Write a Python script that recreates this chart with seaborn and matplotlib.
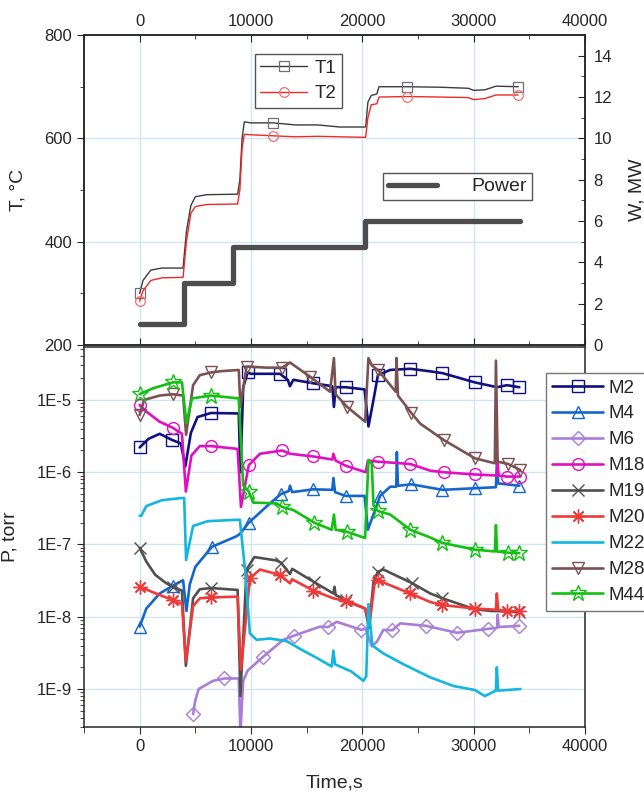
import numpy as np
import pandas as pd
import seaborn as sns
import matplotlib
matplotlib.use("Agg")
from matplotlib import pyplot as plt
from matplotlib.ticker import MultipleLocator, LogLocator, FuncFormatter, NullFormatter

# ---- top panel: temperatures (left axis) and power (right axis)
t_T = [0, 300, 1000, 2000, 3900, 4200, 4600, 5000, 6000, 8800, 9000, 9200, 9400, 10000, 12000,
       14000, 16000, 18000, 20300, 20500, 20800, 21300, 21500, 24000, 27000, 29500, 30000, 31000,
       32000, 34000]
T1 = [300, 325, 345, 349, 349, 420, 470, 487, 491, 492, 520, 600, 632, 630, 630,
      626, 626, 622, 622, 670, 683, 686, 700, 700, 699, 697, 693, 694, 701, 700]
T2 = [285, 305, 325, 330, 331, 400, 455, 468, 472, 473, 500, 580, 608, 607, 605,
      603, 604, 603, 602, 640, 665, 667, 680, 681, 680, 679, 675, 677, 684, 684]
marks_T = [0, 12000, 24000, 34000]

t_P = [0, 4000, 8400, 20200, 34200]
power = [1, 3, 4.75, 6, 6]

# ---- bottom panel: partial pressures, torr
t_M2 = [0, 800, 1800, 2900, 3700, 4100, 4600, 5200, 6400, 8900, 9050, 9300, 9700, 10000, 12600,
        13300, 13500, 13800, 15600, 17300, 17450, 17600, 18500, 20200, 20550, 21000, 21400, 22500,
        24300, 26000, 27200, 30100, 32100, 33000, 34100]
M2 = [2.2e-6, 2.9e-6, 3.4e-6, 2.8e-6, 2.5e-6, 1.2e-6, 3.5e-6, 5.8e-6, 6.6e-6, 6.5e-6, 1.0e-6, 1.5e-5,
      2.4e-5, 2.3e-5, 2.3e-5, 1.9e-5, 1.55e-5, 1.9e-5, 1.7e-5, 1.55e-5, 8e-6, 1.5e-5, 1.5e-5, 1.4e-5,
      4.3e-6, 1.0e-5, 2.2e-5, 2.6e-5, 2.7e-5, 2.5e-5, 2.35e-5, 1.75e-5, 1.5e-5, 1.6e-5, 1.5e-5]

t_M4 = [0, 600, 1800, 3000, 3900, 4200, 4500, 5000, 6500, 8700, 9000, 9800, 11700, 12700, 13400,
        13500, 13700, 15600, 17300, 17400, 17550, 18500, 20200, 20500, 21600, 22500, 23050, 23100,
        23200, 24400, 27200, 30100, 32000, 32100, 32200, 34100]
M4 = [7.3e-9, 1.3e-8, 2.1e-8, 2.7e-8, 3.2e-8, 1.2e-8, 2.8e-8, 4.9e-8, 9.3e-8, 1.3e-7, 1.4e-7, 2.0e-7,
      3.7e-7, 5.0e-7, 5.5e-7, 6.5e-7, 5.3e-7, 5.8e-7, 5.7e-7, 8.3e-7, 5.3e-7, 4.7e-7, 4.7e-7, 1.6e-7,
      4.7e-7, 6.3e-7, 6.3e-7, 1.9e-6, 6.5e-7, 6.8e-7, 5.7e-7, 6.0e-7, 6.2e-7, 1.6e-6, 7.0e-7, 6.5e-7]

t_M6 = [4800, 5000, 5300, 6600, 7600, 8900, 9050, 9300, 9700, 11100, 12900, 13900, 16200, 16900,
        17700, 19900, 20300, 20850, 21300, 21900, 22700, 23400, 25700, 28500, 31300, 32100, 32150,
        32250, 34100]
M6 = [4.5e-10, 7e-10, 1.0e-9, 1.3e-9, 1.4e-9, 1.4e-9, 2.5e-10, 1.3e-9, 1.8e-9, 2.8e-9, 4.8e-9, 5.5e-9,
      7.3e-9, 7.2e-9, 8.5e-9, 6.6e-9, 6.8e-9, 3.9e-9, 4.5e-9, 6.6e-9, 6.5e-9, 8.1e-9, 7.5e-9, 6.0e-9,
      6.8e-9, 7e-9, 1.07e-8, 7.2e-9, 7.5e-9]

t_M18 = [0, 600, 1800, 3000, 3800, 4150, 4650, 5400, 6400, 8800, 9100, 9800, 10800, 12800, 13500,
         15600, 17300, 17400, 17600, 18500, 20300, 20500, 21400, 24300, 26100, 27300, 30100, 32100,
         32150, 32250, 33000, 34200]
M18 = [8.5e-6, 6.9e-6, 5.0e-6, 4.1e-6, 3.4e-6, 5.4e-7, 1.7e-6, 2.3e-6, 2.3e-6, 2.1e-6, 3.3e-7, 1.25e-6,
       1.8e-6, 2.0e-6, 1.8e-6, 1.65e-6, 1.5e-6, 1.8e-6, 1.45e-6, 1.23e-6, 1.0e-6, 1.45e-6, 1.4e-6,
       1.3e-6, 1.05e-6, 1.0e-6, 9.3e-7, 9e-7, 1.35e-6, 9e-7, 8.7e-7, 8.7e-7]

t_M19 = [0, 600, 1400, 2400, 3000, 3800, 4150, 4800, 5400, 6400, 8800, 9050, 9600, 10300, 12300,
         12700, 13500, 13700, 15700, 17400, 17500, 17600, 18500, 20250, 20600, 21000, 21400, 21900,
         24500, 26100, 27200, 30100, 31600, 32100, 34100]
M19 = [9e-8, 5.8e-8, 3.8e-8, 2.9e-8, 2.6e-8, 2.3e-8, 2.1e-9, 1.8e-8, 2.4e-8, 2.5e-8, 2.35e-8, 8e-10,
       4.5e-8, 6.7e-8, 6.0e-8, 5.6e-8, 3.9e-8, 4.6e-8, 3.0e-8, 2.1e-8, 2.6e-8, 2.0e-8, 1.7e-8, 1.3e-8,
       7e-9, 3e-8, 4.2e-8, 4.5e-8, 2.9e-8, 2.1e-8, 1.8e-8, 1.27e-8, 1.2e-8, 1.2e-8, 1.15e-8]

t_M20 = [0, 1800, 3000, 3800, 4150, 4800, 5400, 6400, 8800, 9100, 9900, 10800, 12600, 13500, 13700,
         15600, 17400, 18500, 20250, 20650, 21100, 21400, 24300, 26100, 27200, 30100, 32000, 32080,
         32200, 33000, 34100]
M20 = [2.6e-8, 2.0e-8, 1.7e-8, 1.5e-8, 2.4e-9, 1.4e-8, 1.8e-8, 1.85e-8, 1.9e-8, 1.85e-9, 3.4e-8,
       4.5e-8, 3.8e-8, 2.9e-8, 3.3e-8, 2.3e-8, 1.8e-8, 1.65e-8, 1.3e-8, 8e-9, 2.9e-8, 3.2e-8, 2.1e-8,
       1.6e-8, 1.45e-8, 1.3e-8, 1.25e-8, 2.1e-8, 1.25e-8, 1.2e-8, 1.2e-8]

t_M22 = [0, 150, 600, 2000, 3800, 4000, 4170, 4800, 6100, 8800, 9000, 9500, 9900, 10500, 11700,
         13200, 14400, 15900, 17250, 17400, 17550, 19000, 20100, 20350, 20550, 20900, 21900, 23700,
         26100, 28200, 30100, 31000, 32000, 32080, 32200, 34200]
M22 = [2.5e-7, 2.5e-7, 3.4e-7, 4.1e-7, 4.4e-7, 4.4e-7, 6.1e-8, 1.8e-7, 2.1e-7, 2.2e-7, 2.2e-7, 4e-8,
       5.9e-9, 4.8e-9, 5.0e-9, 4.6e-9, 3.6e-9, 2.7e-9, 2.05e-9, 3.4e-9, 2.2e-9, 1.75e-9, 1.3e-9,
       1.5e-9, 1.5e-8, 4e-9, 3.1e-9, 2.2e-9, 1.45e-9, 1.1e-9, 9.7e-10, 8e-10, 9.5e-10, 2e-9, 9.5e-10,
       1.0e-9]

t_M28 = [0, 400, 1800, 3000, 3900, 4170, 4800, 5400, 6400, 7300, 8900, 9050, 9600, 11400, 12800,
         13500, 15300, 17100, 17450, 17600, 18600, 20250, 20550, 20850, 21400, 23000, 23070, 23200,
         24400, 25200, 27300, 30100, 31900, 32000, 32150, 33100, 34200]
M28 = [6.2e-6, 1.0e-5, 1.15e-5, 1.2e-5, 1.15e-5, 3.3e-6, 1.6e-5, 2.2e-5, 2.4e-5, 2.5e-5, 2.6e-5, 8e-6,
       2.9e-5, 2.8e-5, 2.8e-5, 3.3e-5, 2.1e-5, 1.3e-5, 3.8e-5, 1.2e-5, 8.1e-6, 5.0e-6, 3.8e-5, 3.0e-5,
       2.6e-5, 1.3e-5, 3.8e-5, 1.15e-5, 6.6e-6, 4.7e-6, 2.8e-6, 1.56e-6, 1.33e-6, 3.5e-5, 1.4e-6,
       1.3e-6, 1.07e-6]

t_M44 = [0, 1200, 3000, 3800, 4200, 4700, 6400, 8900, 9300, 9800, 10200, 12300, 12800, 13800, 15700,
         17250, 17450, 17600, 18600, 20250, 20550, 20850, 21000, 21400, 22500, 24300, 26100, 27200,
         30100, 31900, 32000, 32100, 33100, 34100]
M44 = [1.2e-5, 1.45e-5, 1.75e-5, 1.75e-5, 4.8e-6, 1.05e-5, 1.15e-5, 1.05e-5, 6.6e-7, 5.4e-7, 3.8e-7,
       3.7e-7, 3.3e-7, 3.0e-7, 2.0e-7, 1.6e-7, 2.6e-7, 1.6e-7, 1.5e-7, 1.23e-7, 1.48e-6, 1.3e-6,
       3.5e-7, 2.9e-7, 2.6e-7, 1.6e-7, 1.25e-7, 1.05e-7, 8.5e-8, 8e-8, 1.85e-7, 8e-8, 7.7e-8, 7.6e-8]

# times where the open symbols sit
marks = [0, 2950, 6400, 9800, 12700, 15650, 18550, 21400, 24350, 27200, 30100, 33050, 34100]
marks_short = [m for m in marks if m != 33050]
marks_M6 = [4800, 7600, 11100, 13900, 16900, 19900, 22700, 25700, 28500, 31300, 34100]

series = [
    # label, times, values, color, marker, marker size, marker times
    ("M2", t_M2, M2, "#10107e", "s", 8, marks),
    ("M4", t_M4, M4, "#1466cc", "^", 8.5, marks_short),
    ("M6", t_M6, M6, "#a97ed6", "D", 7.5, marks_M6),
    ("M18", t_M18, M18, "#e010c0", "o", 8.5, marks),
    ("M19", t_M19, M19, "#505050", "x", 8.5, marks_short),
    ("M20", t_M20, M20, "#f03a3a", (8, 2, 0), 10, marks),
    ("M22", t_M22, M22, "#12b6de", None, 0, []),
    ("M28", t_M28, M28, "#7b5252", "v", 8.5, marks),
    ("M44", t_M44, M44, "#12c012", "*", 12, marks),
]


def mark_idx(t, mt):
    t = np.asarray(t)
    return sorted({int(np.argmin(np.abs(t - m))) for m in mt})


sns.set_style("ticks")
plt.rcParams["font.family"] = ["Liberation Sans", "DejaVu Sans"]
plt.rcParams["axes.linewidth"] = 1.1
grid_col = "#cfe5f6"

fig = plt.figure(figsize=(6.44, 7.93), dpi=100)
ax_top = fig.add_axes([0.1304, 0.5649, 0.7780, 0.3909])
ax_bot = fig.add_axes([0.1304, 0.0832, 0.7780, 0.4792])

# --- top panel
dfT = pd.DataFrame({"t": t_T, "T1": T1, "T2": T2})
sns.lineplot(data=dfT, x="t", y="T1", ax=ax_top, color="#3c3c3c", lw=1.0, label="T1",
             estimator=None, errorbar=None, marker="s", markevery=mark_idx(t_T, marks_T),
             markersize=7, markerfacecolor="none", markeredgecolor="#707070", markeredgewidth=0.9)
sns.lineplot(data=dfT, x="t", y="T2", ax=ax_top, color="#f02828", lw=1.0, label="T2",
             estimator=None, errorbar=None, marker="o", markevery=mark_idx(t_T, marks_T),
             markersize=7, markerfacecolor="none", markeredgecolor="#f07070", markeredgewidth=0.9)
ax_top.set_xlim(-5000, 40000)
ax_top.set_ylim(200, 800)
ax_top.set_xlabel("")
ax_top.set_ylabel("T, °C", fontsize=14)
ax_top.yaxis.set_label_coords(-0.115, 0.5)
ax_top.xaxis.set_major_locator(MultipleLocator(10000))
ax_top.xaxis.set_minor_locator(MultipleLocator(5000))
ax_top.yaxis.set_major_locator(MultipleLocator(200))
ax_top.yaxis.set_minor_locator(MultipleLocator(100))
ax_top.tick_params(axis="x", which="both", direction="in", top=True, bottom=True,
                   labeltop=True, labelbottom=False, labelsize=12, pad=4)
ax_top.tick_params(axis="x", which="major", length=5)
ax_top.tick_params(axis="x", which="minor", length=3)
ax_top.tick_params(axis="y", which="both", direction="out", left=True, right=False, labelsize=12)
ax_top.tick_params(axis="y", which="major", length=5)
ax_top.tick_params(axis="y", which="minor", length=3)
ax_top.grid(True, which="major", color=grid_col, lw=0.9)
ax_top.set_axisbelow(True)
ax_top.legend(loc="upper left", bbox_to_anchor=(0.341, 0.939), borderaxespad=0, fontsize=13.5,
              handlelength=2.5, handletextpad=0.4, labelspacing=0.45, borderpad=0.3,
              frameon=True, fancybox=False, edgecolor="#555555", framealpha=1)

ax_w = ax_top.twinx()
dfP = pd.DataFrame({"t": t_P, "W": power})
sns.lineplot(data=dfP, x="t", y="W", ax=ax_w, color="#4d4d4d", lw=3.8, label="Power",
             estimator=None, errorbar=None, drawstyle="steps-post")
ax_w.set_xlabel("")
ax_w.xaxis.set_visible(False)
ax_w.set_ylim(0, 15)
ax_w.set_ylabel("W, MW", fontsize=14)
ax_w.yaxis.set_label_coords(1.086, 0.5)
ax_w.yaxis.set_major_locator(MultipleLocator(2))
ax_w.yaxis.set_minor_locator(MultipleLocator(1))
ax_w.tick_params(axis="y", which="both", direction="in", labelsize=12, pad=6)
ax_w.tick_params(axis="y", which="major", length=5)
ax_w.tick_params(axis="y", which="minor", length=3)
ax_w.grid(False)
ax_w.legend(loc="upper left", bbox_to_anchor=(0.597, 0.555), borderaxespad=0, fontsize=14,
            handlelength=2.5, handletextpad=1.8, borderpad=0.25,
            frameon=True, fancybox=False, edgecolor="#555555", framealpha=1)

# --- bottom panel
for name, t, v, col, mk, ms, mt in series:
    df = pd.DataFrame({"t": t, "P": v})
    kw = dict(ax=ax_bot, color=col, lw=1.9, label=name, estimator=None, errorbar=None)
    if mk is not None:
        kw.update(marker=mk, markevery=mark_idx(t, mt), markersize=ms,
                  markerfacecolor="none", markeredgecolor=col, markeredgewidth=1.0)
    sns.lineplot(data=df, x="t", y="P", **kw)

ax_bot.set_yscale("log")
ax_bot.set_xlim(-5000, 40000)
ax_bot.set_ylim(2.98e-10, 5.4e-5)
ax_bot.set_xlabel("Time,s", fontsize=14)
ax_bot.xaxis.set_label_coords(0.5, -0.125)
ax_bot.set_ylabel("P, torr", fontsize=14)
ax_bot.yaxis.set_label_coords(-0.13, 0.5)
ax_bot.xaxis.set_major_locator(MultipleLocator(10000))
ax_bot.xaxis.set_minor_locator(MultipleLocator(5000))
ax_bot.yaxis.set_major_locator(LogLocator(base=10, numticks=20))
ax_bot.yaxis.set_minor_locator(LogLocator(base=10, subs=np.arange(2, 10), numticks=20))
ax_bot.yaxis.set_major_formatter(FuncFormatter(lambda v, p: f"1E{int(round(np.log10(v)))}"))
ax_bot.yaxis.set_minor_formatter(NullFormatter())
ax_bot.tick_params(axis="x", which="both", direction="out", top=False, bottom=True, labelsize=12)
ax_bot.tick_params(axis="x", which="major", length=5)
ax_bot.tick_params(axis="x", which="minor", length=4)
ax_bot.tick_params(axis="y", which="both", direction="out", left=True, right=False, labelsize=12)
ax_bot.tick_params(axis="y", which="major", length=5)
ax_bot.tick_params(axis="y", which="minor", length=3)
ax_bot.grid(True, which="major", color=grid_col, lw=0.9)
ax_bot.set_axisbelow(True)
ax_bot.legend(loc="upper left", bbox_to_anchor=(0.922, 0.932), borderaxespad=0, fontsize=13.5,
              handlelength=2.7, handletextpad=0.3, labelspacing=0.47, borderpad=0.35,
              frameon=True, fancybox=False, edgecolor="#777777", framealpha=1)

fig.savefig("out.png", dpi=100)
